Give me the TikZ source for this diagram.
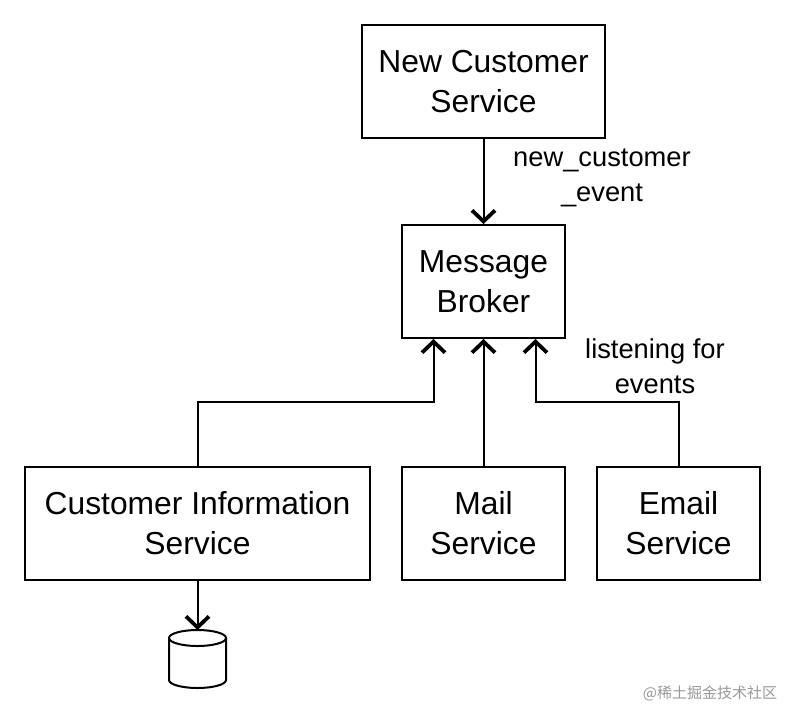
\documentclass[tikz,border=0pt]{standalone}
\usepackage{fontspec}
\setmainfont{Liberation Sans}
\newfontfamily\cjk{Noto Sans CJK SC}
\usetikzlibrary{arrows.meta}
\begin{document}
\begin{tikzpicture}[x=1pt,y=-1pt,
  svc/.style={draw, line width=2pt, minimum height=113pt, align=center, inner sep=0pt,
    font=\fontsize{31.8}{40}\selectfont},
  conn/.style={line width=2pt, -{Straight Barb[length=11pt,width=23pt,line width=3.8pt]}},
  lbl/.style={align=center, font=\fontsize{27.3}{35}\selectfont}]
\useasboundingbox[fill=white] (0,0) rectangle (786,715);
\node[svc, minimum width=243pt] (ncs) at (483.5,81.5) {New Customer\\Service};
\node[svc, minimum width=163pt] (mb) at (483.5,281.5) {Message\\Broker};
\node[svc, minimum width=345pt] (cis) at (197.5,523.5) {Customer Information\\Service};
\node[svc, minimum width=163pt] (ms) at (483.5,523.5) {Mail\\Service};
\node[svc, minimum width=163pt] (es) at (678.5,523.5) {Email\\Service};
% database
\coordinate (dbtop) at (197.5,630);
\draw[line width=2pt] (169,638) -- (169,680) arc[start angle=180,end angle=0,x radius=28.5,y radius=8] -- (226,638);
\draw[line width=2pt] (197.5,638) ellipse [x radius=28.5, y radius=8];
% connectors
\draw[conn] (ncs.south) -- (mb.north);
\draw[conn] (ms.north) -- (mb.south);
\draw[conn] (cis.north) -- ++(0,-64) -| ([xshift=-50pt]mb.south);
\draw[conn] (es.north) -- ++(0,-64) -| ([xshift=52pt]mb.south);
\draw[conn] (cis.south) -- (dbtop);
% labels
\node[lbl] (l1) at (602,178) {new\_customer\\\_event};
\node[lbl] (l2) at (655,366) {listening for\\events};
\node[text=black!40, font=\cjk\fontsize{15}{18}\selectfont] (wm) at (710,693) {@稀土掘金技术社区};
\end{tikzpicture}
\end{document}
